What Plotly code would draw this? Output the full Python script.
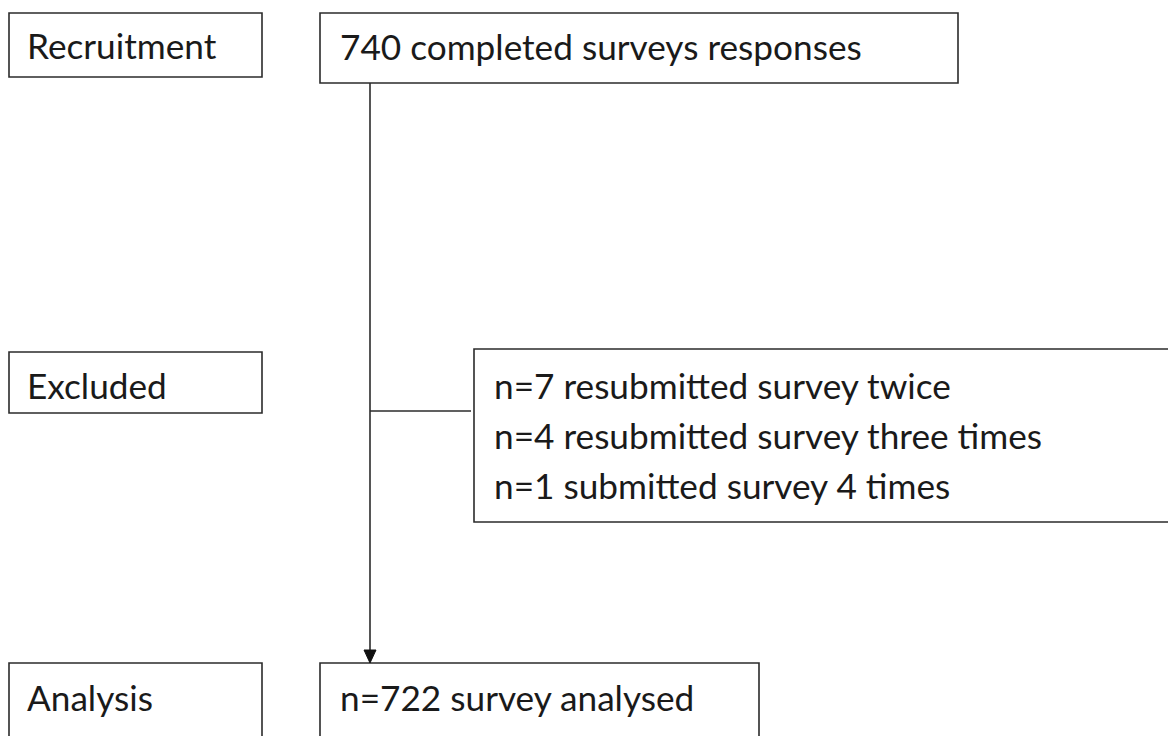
import plotly.graph_objects as go

# ---- content ----
stage_labels = ["Recruitment", "Excluded", "Analysis"]
main_labels = ["740 completed surveys responses", "n=722 survey analysed"]
excluded_lines = [
    "n=7 resubmitted survey twice",
    "n=4 resubmitted survey three times",
    "n=1 submitted survey 4 times",
]

# ---- layout (pixel coordinates of the page, y downwards) ----
W, H = 1176, 736
OFF = 8  # page body margin around the plot div
stage_boxes = [(9, 13, 262, 77), (9, 352, 262, 413), (9, 663, 262, 760)]
stage_text_y = [45, 385, 697]
main_boxes = [(320, 13, 958, 83), (320, 663, 759, 760)]
main_text_y = [46, 697]
excl_box = (474, 349, 1200, 522)
excl_text_y = [385, 435, 485]
spine_x = 370
branch_y = 411

LINE = "#2b2b2b"
FONT = dict(family="Lato, 'Open Sans', sans-serif", size=35.2, color="#1a1a1a")

fig = go.Figure()
shapes = []
annotations = []

def rect(b):
    shapes.append(dict(type="rect", xref="x", yref="y", x0=b[0], y0=b[1], x1=b[2], y1=b[3],
                       line=dict(color=LINE, width=1.6), fillcolor="rgba(0,0,0,0)"))

for b, t, ty in zip(stage_boxes, stage_labels, stage_text_y):
    rect(b)
    annotations.append(dict(x=b[0] + 16, y=ty, text=t, xref="x", yref="y", showarrow=False,
                            xanchor="left", yanchor="middle", font=FONT))

for b, t, ty in zip(main_boxes, main_labels, main_text_y):
    rect(b)
    annotations.append(dict(x=b[0] + 18, y=ty, text=t, xref="x", yref="y", showarrow=False,
                            xanchor="left", yanchor="middle", font=FONT))

rect(excl_box)
for t, ty in zip(excluded_lines, excl_text_y):
    annotations.append(dict(x=excl_box[0] + 18, y=ty, text=t, xref="x", yref="y", showarrow=False,
                            xanchor="left", yanchor="middle", font=FONT))

# connectors
top_bottom = main_boxes[0][3]
target_top = main_boxes[1][1]
head_len = 13
shapes.append(dict(type="line", xref="x", yref="y", x0=spine_x, y0=top_bottom, x1=spine_x,
                   y1=target_top - head_len + 1, line=dict(color=LINE, width=1.6)))
shapes.append(dict(type="line", xref="x", yref="y", x0=spine_x, y0=branch_y, x1=excl_box[0] - 3,
                   y1=branch_y, line=dict(color=LINE, width=1.6)))
shapes.append(dict(type="path", xref="x", yref="y",
                   path=f"M {spine_x-6} {target_top-head_len} L {spine_x+6} {target_top-head_len} L {spine_x} {target_top} Z",
                   fillcolor="#111111", line=dict(color="#111111", width=1)))

fig.update_layout(
    width=W, height=H,
    margin=dict(l=0, r=0, t=0, b=0),
    paper_bgcolor="white", plot_bgcolor="white",
    shapes=shapes, annotations=annotations,
    xaxis=dict(range=[OFF, W + OFF], visible=False, fixedrange=True),
    yaxis=dict(range=[H + OFF, OFF], visible=False, fixedrange=True),
    showlegend=False,
)

fig.write_html("out.html")
